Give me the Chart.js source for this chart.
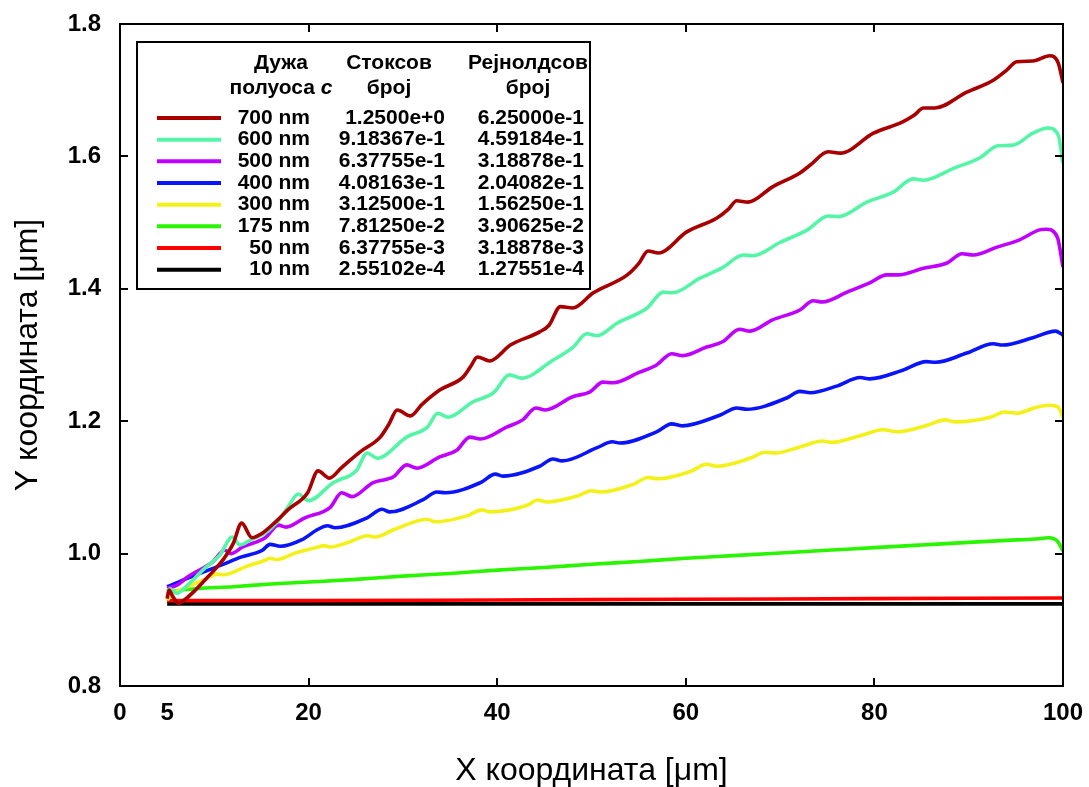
<!DOCTYPE html>
<html>
<head>
<meta charset="utf-8">
<script src="https://cdn.jsdelivr.net/npm/chart.js@4.4.1/dist/chart.umd.min.js"></script>
<style>
  html, body { margin: 0; padding: 0; background: #fff; }
</style>
</head>
<body>
<canvas id="c" width="1089" height="787"></canvas>
<script>
// ---- data ----
const x700 = [5, 5.2, 5.6, 6.2, 7, 8, 9, 10, 11, 12, 12.9, 14, 15, 16.5, 17.8, 19.9, 21, 22.2, 23.5, 25.4, 27.6, 28.5, 29.4, 30.8, 32, 33.9, 36.4, 37.2, 37.9, 39.2, 41.4, 44.5, 45.5, 46.7, 48, 50.2, 53.8, 55, 56, 57.1, 60.1, 63.3, 64.5, 65.4, 66.6, 69.2, 72.1, 73.2, 75.1, 76.4, 79.9, 83, 84.2, 85.2, 86.4, 89.8, 92.6, 94, 95.1, 96.8, 98.6, 99.5, 100];
const y700 = [0.932, 0.945, 0.935, 0.925, 0.932, 0.945, 0.960, 0.975, 0.992, 1.015, 1.046, 1.024, 1.030, 1.048, 1.066, 1.092, 1.125, 1.114, 1.130, 1.153, 1.176, 1.195, 1.217, 1.208, 1.225, 1.247, 1.267, 1.283, 1.297, 1.291, 1.315, 1.335, 1.345, 1.373, 1.371, 1.394, 1.421, 1.438, 1.457, 1.454, 1.486, 1.507, 1.520, 1.533, 1.531, 1.554, 1.575, 1.587, 1.607, 1.605, 1.635, 1.652, 1.662, 1.673, 1.673, 1.697, 1.715, 1.730, 1.743, 1.744, 1.752, 1.741, 1.711];

const x600 = [5, 5.3, 6, 7, 8, 9, 10.6, 11.9, 12.7, 14, 15.4, 16.8, 17.8, 18.9, 20, 22.6, 25.1, 26.2, 27.3, 30.4, 32.6, 33.7, 34.8, 37.4, 39.6, 41.3, 42.6, 45.9, 48, 49.5, 50.6, 52.7, 55.9, 57.6, 58.6, 61.5, 63.9, 66.1, 67.1, 70, 72.9, 75.1, 76.2, 79.2, 82, 84.1, 85.2, 88.4, 91.2, 93.1, 94.7, 96.8, 98.4, 99.5, 100];
const y600 = [0.943, 0.947, 0.940, 0.950, 0.964, 0.978, 0.998, 1.025, 1.013, 1.022, 1.031, 1.050, 1.070, 1.090, 1.080, 1.107, 1.126, 1.152, 1.144, 1.176, 1.191, 1.212, 1.206, 1.229, 1.243, 1.270, 1.265, 1.292, 1.311, 1.332, 1.329, 1.348, 1.371, 1.395, 1.394, 1.416, 1.432, 1.451, 1.450, 1.470, 1.489, 1.510, 1.509, 1.531, 1.546, 1.566, 1.564, 1.582, 1.598, 1.616, 1.617, 1.635, 1.643, 1.632, 1.590];

const x500 = [5, 6, 7.2, 9.8, 11.1, 11.8, 13, 15.4, 16.8, 17.6, 19.6, 22.3, 23.5, 24.6, 26.8, 29, 30.4, 31.5, 33.9, 35.7, 37.1, 38.2, 41, 42.7, 44.1, 45.1, 48, 49.8, 51.2, 52.3, 55.1, 56.9, 58.5, 59.7, 62.2, 63.9, 65.7, 66.8, 69.2, 72.1, 73.5, 74.5, 77.1, 79.5, 81.3, 82.5, 85.2, 87.7, 89.3, 90.5, 93, 95.4, 97.5, 98.2, 99.4, 100];
const y500 = [0.948, 0.952, 0.965, 0.987, 1.005, 1.000, 1.010, 1.024, 1.043, 1.040, 1.054, 1.070, 1.092, 1.086, 1.107, 1.116, 1.134, 1.129, 1.146, 1.156, 1.176, 1.173, 1.191, 1.202, 1.220, 1.217, 1.237, 1.244, 1.259, 1.258, 1.274, 1.285, 1.302, 1.299, 1.312, 1.320, 1.339, 1.336, 1.353, 1.368, 1.382, 1.380, 1.395, 1.409, 1.421, 1.421, 1.431, 1.439, 1.453, 1.451, 1.463, 1.474, 1.489, 1.490, 1.478, 1.433];

const x400 = [5, 7.2, 10.8, 12.9, 15.1, 15.9, 17, 19.3, 20.9, 22, 22.8, 26.2, 27.8, 28.6, 32.1, 33.6, 34.5, 38.2, 39.8, 40.6, 44.5, 45.9, 46.9, 50.6, 52.2, 53, 56.9, 58.5, 59.6, 63.6, 65.4, 66.5, 70.7, 72.1, 73.2, 76, 78.5, 79.5, 83, 85.5, 86.5, 89.8, 92.6, 93.6, 96.8, 99.2, 99.8, 100];
const y400 = [0.950, 0.963, 0.983, 0.995, 1.005, 1.014, 1.011, 1.021, 1.036, 1.042, 1.039, 1.054, 1.067, 1.063, 1.081, 1.093, 1.092, 1.107, 1.120, 1.117, 1.132, 1.143, 1.140, 1.160, 1.169, 1.167, 1.184, 1.196, 1.193, 1.209, 1.220, 1.218, 1.235, 1.245, 1.243, 1.253, 1.266, 1.264, 1.277, 1.290, 1.289, 1.303, 1.317, 1.315, 1.326, 1.336, 1.332, 1.330];

const x300 = [5, 5.5, 7.2, 9, 10.3, 11, 13.3, 15.4, 15.9, 16.6, 18.6, 21, 21.6, 22.3, 24, 26.3, 27.1, 29, 32.6, 33.4, 36.8, 38.4, 39.2, 43.2, 44.3, 45.3, 48.5, 50, 51, 54.5, 56, 57, 60.5, 62.2, 63.3, 66.8, 68.4, 69.5, 72.1, 74.5, 75.5, 78.5, 80.9, 82.4, 85.6, 87.5, 88.5, 92.3, 93.8, 95.1, 97.2, 98.6, 99.5, 100];
const y300 = [0.930, 0.938, 0.950, 0.961, 0.969, 0.968, 0.980, 0.990, 0.993, 0.991, 1.001, 1.010, 1.012, 1.010, 1.016, 1.027, 1.025, 1.036, 1.052, 1.048, 1.057, 1.066, 1.063, 1.073, 1.081, 1.078, 1.087, 1.095, 1.093, 1.105, 1.115, 1.113, 1.124, 1.135, 1.132, 1.144, 1.153, 1.152, 1.161, 1.170, 1.168, 1.178, 1.187, 1.184, 1.194, 1.202, 1.199, 1.206, 1.214, 1.212, 1.221, 1.224, 1.221, 1.206];

const x175 = [5, 6, 8, 12, 16, 20, 25, 30, 35, 40, 45, 50, 55, 60, 65, 70, 75, 80, 85, 90, 94, 97, 98.5, 99.4, 100];
const y175 = [0.940, 0.944, 0.947, 0.950, 0.954, 0.957, 0.961, 0.966, 0.970, 0.975, 0.979, 0.984, 0.988, 0.993, 0.997, 1.001, 1.005, 1.009, 1.013, 1.017, 1.020, 1.022, 1.024, 1.019, 1.004];

const x50 = [5, 20, 40, 60, 80, 100];
const y50 = [0.929, 0.929, 0.930, 0.931, 0.932, 0.933];

const x10 = [5, 100];
const y10 = [0.924, 0.924];

// legend table
const sizeLabels = ['700 nm', '600 nm', '500 nm', '400 nm', '300 nm', '175 nm', '50 nm', '10 nm'];
const stokesLabels = ['1.2500e+0', '9.18367e-1', '6.37755e-1', '4.08163e-1', '3.12500e-1', '7.81250e-2', '6.37755e-3', '2.55102e-4'];
const reynoldsLabels = ['6.25000e-1', '4.59184e-1', '3.18878e-1', '2.04082e-1', '1.56250e-1', '3.90625e-2', '3.18878e-3', '1.27551e-4'];

const xTickValues = [0, 5, 20, 40, 60, 80, 100];
const xTickMarks = [20, 40, 60, 80];
const yTickValues = [0.8, 1.0, 1.2, 1.4, 1.6, 1.8];

const xSeries = [x700, x600, x500, x400, x300, x175, x50, x10];
const ySeries = [y700, y600, y500, y400, y300, y175, y50, y10];
const colors = ['#a80000', '#55f5a8', '#c000ff', '#0a14fa', '#f2f21a', '#2af500', '#ff0000', '#000000'];

const FONT = '"Liberation Sans", Arial, Helvetica, sans-serif';

const datasets = sizeLabels.map((lab, i) => ({
  label: lab,
  data: xSeries[i].map((x, j) => ({x: x, y: ySeries[i][j]})),
  borderColor: colors[i],
  backgroundColor: colors[i],
  borderWidth: 3.6,
  pointRadius: 0,
  fill: false,
  cubicInterpolationMode: 'monotone'
}));

// frame, inward ticks on all four sides and the table legend
const framePlugin = {
  id: 'frame',
  afterDraw(chart) {
    const {ctx, chartArea: a, scales} = chart;
    ctx.save();
    ctx.strokeStyle = '#000';
    ctx.lineWidth = 2;
    ctx.strokeRect(a.left, a.top, a.right - a.left, a.bottom - a.top);
    const tl = 8;
    ctx.beginPath();
    yTickValues.forEach(v => {
      const py = Math.round(scales.y.getPixelForValue(v));
      ctx.moveTo(a.left, py); ctx.lineTo(a.left + tl, py);
      ctx.moveTo(a.right, py); ctx.lineTo(a.right - tl, py);
    });
    xTickMarks.forEach(v => {
      const px = Math.round(scales.x.getPixelForValue(v));
      ctx.moveTo(px, a.bottom); ctx.lineTo(px, a.bottom - tl);
      ctx.moveTo(px, a.top); ctx.lineTo(px, a.top + tl);
    });
    ctx.stroke();

    // legend box
    const L = 137, T = 42, R = 590, B = 289;
    ctx.fillStyle = '#fff';
    ctx.fillRect(L, T, R - L, B - T);
    ctx.strokeRect(L, T, R - L, B - T);

    ctx.fillStyle = '#000';
    ctx.textBaseline = 'middle';
    const f = 'bold 21px ' + FONT;
    ctx.font = f;
    ctx.textAlign = 'center';
    ctx.fillText('Дужа', 281, 63);
    ctx.fillText('Стоксов', 389, 63);
    ctx.fillText('број', 389, 88);
    ctx.fillText('Рејнолдсов', 528, 63);
    ctx.fillText('број', 528, 88);
    // "полуоса c" with bold italic c
    const w1 = ctx.measureText('полуоса ').width;
    ctx.font = 'italic bold 21px ' + FONT;
    const w2 = ctx.measureText('c').width;
    const sx = 281 - (w1 + w2) / 2;
    ctx.textAlign = 'left';
    ctx.font = f;
    ctx.fillText('полуоса ', sx, 88);
    ctx.font = 'italic bold 21px ' + FONT;
    ctx.fillText('c', sx + w1, 88);

    ctx.font = f;
    ctx.textAlign = 'right';
    const rowTop = 118, rowStep = 21.67;
    sizeLabels.forEach((lab, i) => {
      const y = rowTop + i * rowStep;
      ctx.strokeStyle = colors[i];
      ctx.lineWidth = 4;
      ctx.beginPath();
      ctx.moveTo(157, y); ctx.lineTo(221, y);
      ctx.stroke();
      ctx.fillText(lab, 310, y);
      ctx.fillText(stokesLabels[i], 445, y);
      ctx.fillText(reynoldsLabels[i], 584, y);
    });
    ctx.restore();
  }
};

new Chart(document.getElementById('c'), {
  type: 'line',
  data: {datasets: datasets},
  options: {
    responsive: false,
    animation: false,
    layout: {padding: {left: 0, right: 26, top: 24, bottom: 0}},
    plugins: {legend: {display: false}, tooltip: {enabled: false}},
    scales: {
      x: {
        type: 'linear',
        min: 0,
        max: 100,
        afterBuildTicks: s => { s.ticks = xTickValues.map(v => ({value: v})); },
        afterFit: s => { s.height = 101; },
        // tick marks are drawn by the frame plugin; tickLength only sets label offset
        grid: {display: false, drawTicks: true, tickLength: 10},
        border: {display: false},
        ticks: {
          color: '#000',
          font: {family: FONT, size: 24, weight: 'bold'},
          padding: 3,
          maxRotation: 0,
          autoSkip: false,
          callback: v => String(v)
        },
        title: {
          display: true,
          text: 'X координата [μm]',
          color: '#000',
          font: {family: FONT, size: 32, lineHeight: 1},
          padding: {top: 0, bottom: 0}
        }
      },
      y: {
        type: 'linear',
        min: 0.8,
        max: 1.8,
        afterBuildTicks: s => { s.ticks = yTickValues.map(v => ({value: v})); },
        afterFit: s => { s.width = 120; },
        grid: {display: false, drawTicks: true, tickLength: 16},
        border: {display: false},
        ticks: {
          color: '#000',
          font: {family: FONT, size: 24, weight: 'bold'},
          padding: 3,
          callback: v => v.toFixed(1)
        },
        title: {
          display: true,
          text: 'Y координата [μm]',
          color: '#000',
          font: {family: FONT, size: 32, lineHeight: 1},
          padding: {top: 12, bottom: 0}
        }
      }
    }
  },
  plugins: [framePlugin]
});
</script>
</body>
</html>
